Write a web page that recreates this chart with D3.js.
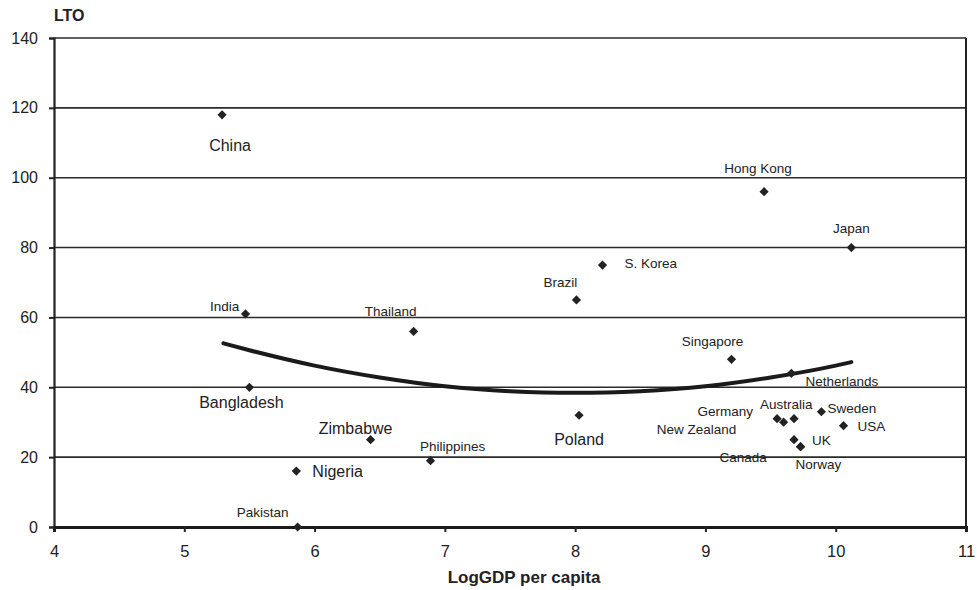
<!DOCTYPE html>
<html>
<head>
<meta charset="utf-8">
<script src="https://cdn.jsdelivr.net/npm/d3@7"></script>
<style>
  html, body { margin: 0; padding: 0; background: #fff; }
  svg text { font-family: "Liberation Sans", Arial, Helvetica, sans-serif; fill: #222; }
</style>
</head>
<body>
<svg id="chart" width="979" height="590"></svg>
<script>
// Countries: log GDP per capita vs. long-term orientation score
const countries = ["China", "India", "Bangladesh", "Thailand", "Zimbabwe", "Nigeria", "Pakistan",
  "Philippines", "Brazil", "S. Korea", "Poland", "Singapore", "Hong Kong", "Japan", "Netherlands",
  "Germany", "New Zealand", "Australia", "Sweden", "USA", "UK", "Canada", "Norway"];
const logGdp = [5.29, 5.47, 5.50, 6.76, 6.43, 5.86, 5.87,
  6.89, 8.01, 8.21, 8.03, 9.20, 9.45, 10.12, 9.66,
  9.55, 9.60, 9.68, 9.89, 10.06, 9.68, 9.73, 9.73];
const lto = [118, 61, 40, 56, 25, 16, 0,
  19, 65, 75, 32, 48, 96, 80, 44,
  31, 30, 31, 33, 29, 25, 23, 23];

// Quadratic trend line, sampled along the x range
const trendX = [5.3, 5.5, 6, 6.5, 7, 7.5, 8, 8.5, 9, 9.5, 10, 10.12];
const trendY = [52.6, 50.6, 46.2, 42.8, 40.3, 38.9, 38.4, 38.9, 40.3, 42.8, 46.2, 47.2];

const xTicks = [4, 5, 6, 7, 8, 9, 10, 11];
const yTicks = [0, 20, 40, 60, 80, 100, 120, 140];

// Label placement: anchor, offset from the marker, large type flag
const labelPlacement = {
  "China":       ["middle", 8, 36, true],
  "India":       ["middle", -21, -3, false],
  "Bangladesh":  ["middle", -8, 21, true],
  "Thailand":    ["middle", -23, -15, false],
  "Zimbabwe":    ["middle", -15, -6, true],
  "Nigeria":     ["start", 16, 6, true],
  "Pakistan":    ["middle", -35, -10, false],
  "Philippines": ["middle", 22, -10, false],
  "Brazil":      ["middle", -16, -13, false],
  "S. Korea":    ["start", 22, 3, false],
  "Poland":      ["middle", 0, 30, true],
  "Singapore":   ["middle", -19, -13, false],
  "Hong Kong":   ["middle", -6, -19, false],
  "Japan":       ["middle", 0, -15, false],
  "Netherlands": ["start", 14, 13, false],
  "Germany":     ["end", -24, -3, false],
  "New Zealand": ["middle", -87, 12, false],
  "Australia":   ["start", -34, -10, false],
  "Sweden":      ["start", 6, 1, false],
  "USA":         ["start", 14, 5, false],
  "UK":          ["start", 18, 5, false],
  "Canada":      ["start", -81, 15, false],
  "Norway":      ["start", -5, 22, false]
};

const svg = d3.select("#chart");
const plotLeft = 54, plotRight = 966, plotTop = 38, plotBottom = 527;

const x = d3.scaleLinear().domain([4, 11]).range([plotLeft, plotRight]);
const y = d3.scaleLinear().domain([0, 140]).range([plotBottom, plotTop]);

// Horizontal gridlines
svg.append("g")
  .selectAll("line")
  .data(yTicks.filter(d => d > 0))
  .join("line")
  .attr("x1", plotLeft).attr("x2", plotRight)
  .attr("y1", d => y(d)).attr("y2", d => y(d))
  .attr("stroke", "#2a2a2a").attr("stroke-width", 1.6);

// Right frame edge
svg.append("line")
  .attr("x1", plotRight).attr("x2", plotRight).attr("y1", plotTop).attr("y2", plotBottom)
  .attr("stroke", "#222").attr("stroke-width", 2);

// Y axis
const yAxis = svg.append("g")
  .attr("transform", `translate(${plotLeft},0)`)
  .call(d3.axisLeft(y).tickValues(yTicks).tickSize(5).tickPadding(11).tickFormat(d3.format("d")));
yAxis.select(".domain").attr("stroke", "#222").attr("stroke-width", 2.2);
yAxis.selectAll(".tick line").attr("stroke", "#222").attr("stroke-width", 2);
yAxis.selectAll(".tick text").attr("font-size", 16).attr("fill", "#222")
  .attr("font-family", "Liberation Sans, Arial, sans-serif");

// X axis
const xAxis = svg.append("g")
  .attr("transform", `translate(0,${plotBottom})`)
  .call(d3.axisBottom(x).tickValues(xTicks).tickSize(5).tickPadding(13).tickFormat(d3.format("d")));
xAxis.select(".domain").attr("stroke", "#1a1a1a").attr("stroke-width", 3);
xAxis.selectAll(".tick line").attr("stroke", "#222").attr("stroke-width", 2);
xAxis.selectAll(".tick text").attr("font-size", 16.5).attr("fill", "#222")
  .attr("font-family", "Liberation Sans, Arial, sans-serif");

// Trend curve
const trend = trendX.map((v, i) => [v, trendY[i]]);
svg.append("path")
  .datum(trend)
  .attr("fill", "none")
  .attr("stroke", "#1a1a1a")
  .attr("stroke-width", 4)
  .attr("stroke-linecap", "round")
  .attr("d", d3.line().x(d => x(d[0])).y(d => y(d[1])).curve(d3.curveMonotoneX));

// Markers
const pts = countries.map((c, i) => ({ name: c, gx: logGdp[i], v: lto[i] }));
const diamond = "M0,-4.6L4.6,0L0,4.6L-4.6,0Z";
svg.append("g")
  .selectAll("path")
  .data(pts)
  .join("path")
  .attr("d", diamond)
  .attr("transform", d => `translate(${x(d.gx)},${y(d.v)})`)
  .attr("fill", "#222");

// Country labels
svg.append("g")
  .selectAll("text")
  .data(pts)
  .join("text")
  .attr("x", d => x(d.gx) + labelPlacement[d.name][1])
  .attr("y", d => y(d.v) + labelPlacement[d.name][2])
  .attr("text-anchor", d => labelPlacement[d.name][0])
  .attr("font-size", d => labelPlacement[d.name][3] ? 16 : 13.5)
  .text(d => d.name);

// Axis titles
svg.append("text")
  .attr("x", plotLeft).attr("y", 21)
  .attr("font-size", 16).attr("font-weight", "bold")
  .text("LTO");
svg.append("text")
  .attr("x", 524).attr("y", 583)
  .attr("text-anchor", "middle")
  .attr("font-size", 17).attr("font-weight", "bold")
  .text("LogGDP per capita");
</script>
</body>
</html>
